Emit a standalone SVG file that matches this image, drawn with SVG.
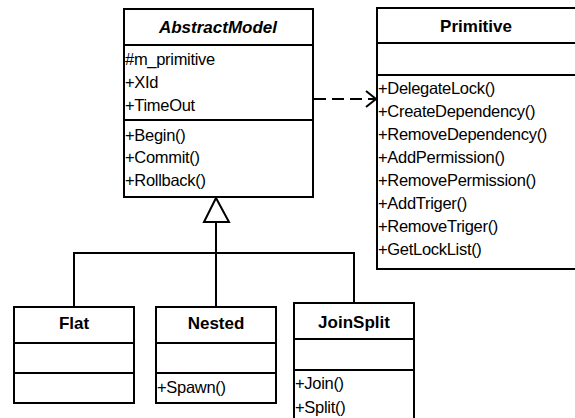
<svg xmlns="http://www.w3.org/2000/svg" width="575" height="418" viewBox="0 0 575 418">
  <style>
    .box { fill: #ffffff; stroke: #000000; stroke-width: 2; }
    .sep { stroke: #000000; stroke-width: 2; }
    .title { font-family: "Liberation Sans", Arial, sans-serif; font-size: 17px; font-weight: bold; text-anchor: middle; fill: #000; }
    .abstract { font-style: italic; }
    .member { font-family: "Liberation Sans", Arial, sans-serif; font-size: 16.5px; fill: #000; letter-spacing: -0.3px; }
    .line { fill: none; stroke: #000000; stroke-width: 2; }
    .dash { fill: none; stroke: #000000; stroke-width: 2; stroke-dasharray: 12 6; }
  </style>
  <defs>
    <marker id="openArrow" viewBox="0 0 12 18" refX="11" refY="9" markerWidth="12" markerHeight="18" markerUnits="userSpaceOnUse" orient="auto">
      <path d="M1,1 L11,9 L1,17" fill="none" stroke="#000" stroke-width="2"/>
    </marker>
  </defs>
  <rect width="575" height="418" fill="#ffffff"/>

  <!-- connectors: dependency and generalization tree -->
  <g id="connectors">
    <line class="dash" x1="314" y1="99" x2="376" y2="99" marker-end="url(#openArrow)"/>
    <polygon points="216,198 204,222 229,222" fill="#fff" stroke="#000" stroke-width="2"/>
    <line class="line" x1="216" y1="222" x2="216" y2="307"/>
    <polyline class="line" points="74,307 74,253 354,253 354,303"/>
  </g>

  <g id="AbstractModel">
    <rect class="box" x="124" y="9" width="189" height="188"/>
    <line class="sep" x1="124" y1="45" x2="313" y2="45"/>
    <line class="sep" x1="124" y1="120" x2="313" y2="120"/>
    <text class="title abstract" x="218" y="33">AbstractModel</text>
    <text class="member" x="125" y="65">#m_primitive</text>
    <text class="member" x="125" y="88">+XId</text>
    <text class="member" x="125" y="111">+TimeOut</text>
    <text class="member" x="125" y="141">+Begin()</text>
    <text class="member" x="125" y="163">+Commit()</text>
    <text class="member" x="125" y="186">+Rollback()</text>
  </g>

  <g id="Primitive">
    <rect class="box" x="377" y="8" width="212" height="261"/>
    <line class="sep" x1="377" y1="43" x2="589" y2="43"/>
    <line class="sep" x1="377" y1="75" x2="589" y2="75"/>
    <text class="title" x="476" y="32">Primitive</text>
    <text class="member" x="378" y="94">+DelegateLock()</text>
    <text class="member" x="378" y="117">+CreateDependency()</text>
    <text class="member" x="378" y="140">+RemoveDependency()</text>
    <text class="member" x="378" y="163">+AddPermission()</text>
    <text class="member" x="378" y="186">+RemovePermission()</text>
    <text class="member" x="378" y="209">+AddTriger()</text>
    <text class="member" x="378" y="232">+RemoveTriger()</text>
    <text class="member" x="378" y="255">+GetLockList()</text>
  </g>

  <g id="Flat">
    <rect class="box" x="14" y="307" width="120" height="96"/>
    <line class="sep" x1="14" y1="343" x2="134" y2="343"/>
    <line class="sep" x1="14" y1="373" x2="134" y2="373"/>
    <text class="title" x="74" y="329">Flat</text>
  </g>

  <g id="Nested">
    <rect class="box" x="156" y="307" width="120" height="96"/>
    <line class="sep" x1="156" y1="343" x2="276" y2="343"/>
    <line class="sep" x1="156" y1="373" x2="276" y2="373"/>
    <text class="title" x="216" y="329">Nested</text>
    <text class="member" x="157" y="393">+Spawn()</text>
  </g>

  <g id="JoinSplit">
    <rect class="box" x="294" y="303" width="120" height="130"/>
    <line class="sep" x1="294" y1="339" x2="414" y2="339"/>
    <line class="sep" x1="294" y1="370" x2="414" y2="370"/>
    <text class="title" x="354" y="328">JoinSplit</text>
    <text class="member" x="295" y="389">+Join()</text>
    <text class="member" x="295" y="413">+Split()</text>
  </g>
</svg>
